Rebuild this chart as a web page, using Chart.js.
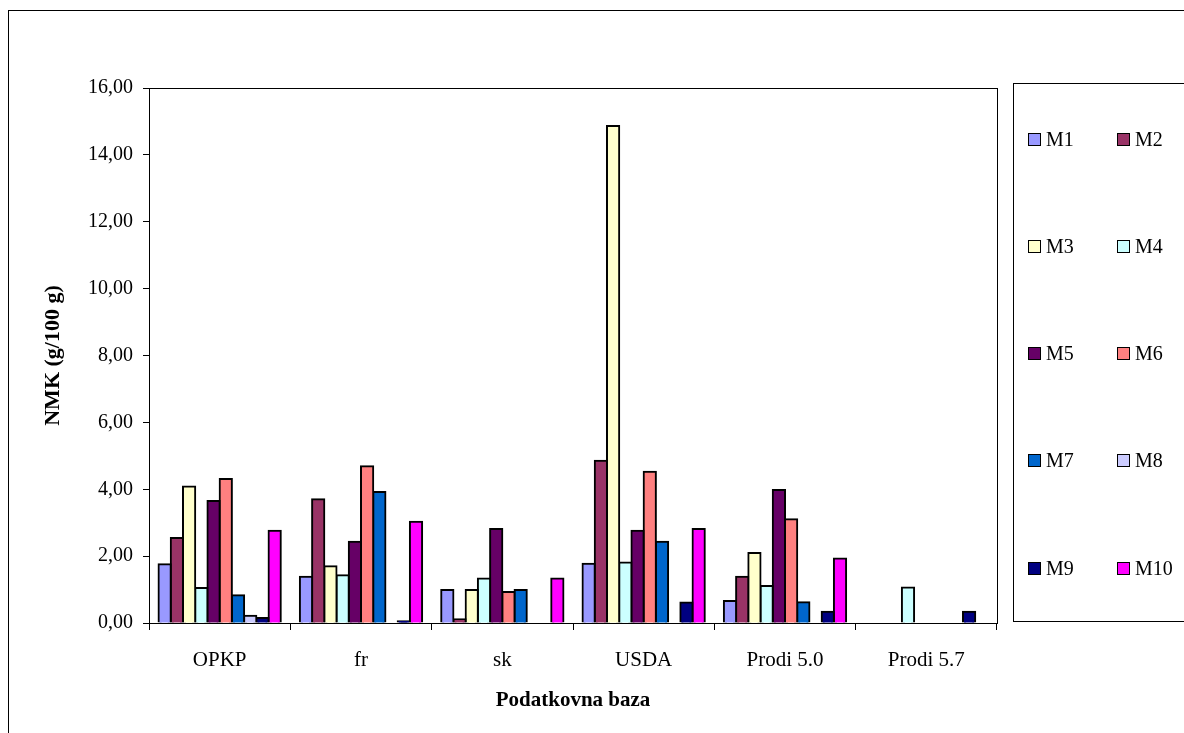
<!DOCTYPE html>
<html>
<head>
<meta charset="utf-8">
<script src="https://cdn.jsdelivr.net/npm/chart.js@4/dist/chart.umd.min.js"></script>
<style>
  body { margin: 0; background: #fff; }
  #wrap { position: relative; width: 1184px; height: 733px; overflow: hidden; }
  #frame { position: absolute; left: 8px; top: 10px; width: 1200px; height: 760px; border: 1px solid #000; }
  canvas { position: absolute; left: 0; top: 0; }
  #legend { position: absolute; left: 1013px; top: 83px; width: 200px; height: 537px; border: 1px solid #000; border-right: none;
            font-family: "Liberation Serif", "Times New Roman", serif; font-size: 20px; color: #000; }
  .item { position: absolute; display: flex; align-items: center; height: 22px; }
  .sw { width: 11px; height: 11px; border: 1.5px solid #000; margin-right: 5px; }
</style>
</head>
<body>
<div id="wrap">
  <div id="frame"></div>
  <canvas id="c" width="1184" height="733"></canvas>
  <div id="legend"></div>
</div>
<script>
const categories = ['OPKP', 'fr', 'sk', 'USDA', 'Prodi 5.0', 'Prodi 5.7'];
const seriesNames = ['M1', 'M2', 'M3', 'M4', 'M5', 'M6', 'M7', 'M8', 'M9', 'M10'];
const seriesColors = ['#9999FF', '#993366', '#FFFFCC', '#CCFFFF', '#660066', '#FF8080', '#0066CC', '#CCCCFF', '#000080', '#FF00FF'];

const M1  = [1.76, 1.38, 0.99, 1.77, 0.66, null];
const M2  = [2.54, 3.70, 0.11, 4.85, 1.38, null];
const M3  = [4.08, 1.70, 0.99, 14.86, 2.09, null];
const M4  = [1.05, 1.43, 1.33, 1.81, 1.11, 1.06];
const M5  = [3.65, 2.43, 2.81, 2.76, 3.98, null];
const M6  = [4.31, 4.69, 0.93, 4.52, 3.10, null];
const M7  = [0.83, 3.92, 0.99, 2.43, 0.62, null];
const M8  = [0.22, null, null, null, null, null];
const M9  = [0.15, 0.05, null, 0.61, 0.34, 0.34];
const M10 = [2.76, 3.03, 1.33, 2.81, 1.93, null];
const seriesValues = [M1, M2, M3, M4, M5, M6, M7, M8, M9, M10];

const serif = '"Liberation Serif", "Times New Roman", serif';

const frameArea = {
  id: 'frameArea',
  afterDraw(chart) {
    const a = chart.chartArea, ctx = chart.ctx;
    ctx.save();
    ctx.strokeStyle = '#000';
    ctx.lineWidth = 1;
    ctx.strokeRect(Math.round(a.left) + 0.5, Math.round(a.top) + 0.5, Math.round(a.right - a.left), Math.round(a.bottom - a.top));
    ctx.restore();
  }
};

new Chart(document.getElementById('c'), {
  type: 'bar',
  data: {
    labels: categories,
    datasets: seriesNames.map((name, i) => ({
      label: name,
      data: seriesValues[i],
      backgroundColor: seriesColors[i],
      borderColor: '#000',
      borderWidth: 2,
      inflateAmount: 1,
      categoryPercentage: 0.865,
      barPercentage: 1.0
    }))
  },
  options: {
    responsive: false,
    animation: false,
    devicePixelRatio: 1,
    layout: { padding: { left: 40, top: 88, right: 187, bottom: 20 } },
    plugins: { legend: { display: false }, tooltip: { enabled: false } },
    scales: {
      x: {
        grid: { offset: true, drawOnChartArea: false, drawTicks: true, tickLength: 7, color: '#000' },
        border: { color: '#000' },
        ticks: { color: '#000', font: { family: serif, size: 21 }, padding: 18, maxRotation: 0 },
        title: { display: true, text: 'Podatkovna baza', color: '#000', font: { family: serif, size: 21, weight: 'bold' }, padding: { top: 0, bottom: 0 } },
        afterFit(scale) { scale.height = 90; }
      },
      y: {
        min: 0, max: 16,
        grid: { drawOnChartArea: false, drawTicks: true, tickLength: 6, color: '#000' },
        border: { color: '#000' },
        ticks: { stepSize: 2, color: '#000', font: { family: serif, size: 20 }, padding: 10,
                 callback: v => v.toFixed(2).replace('.', ',') },
        title: { display: true, text: 'NMK (g/100 g)', color: '#000', font: { family: serif, size: 22, weight: 'bold' }, padding: 0 },
        afterFit(scale) { scale.width = 109; }
      }
    }
  },
  plugins: [frameArea]
});

// two-column legend like the original
const legend = document.getElementById('legend');
seriesNames.forEach((name, i) => {
  const col = i % 2, row = Math.floor(i / 2);
  const el = document.createElement('div');
  el.className = 'item';
  el.style.left = (14 + col * 89) + 'px';
  el.style.top = (44 + row * 107.3) + 'px';
  el.innerHTML = '<span class="sw" style="background:' + seriesColors[i] + '"></span>' + name;
  legend.appendChild(el);
});
</script>
</body>
</html>
